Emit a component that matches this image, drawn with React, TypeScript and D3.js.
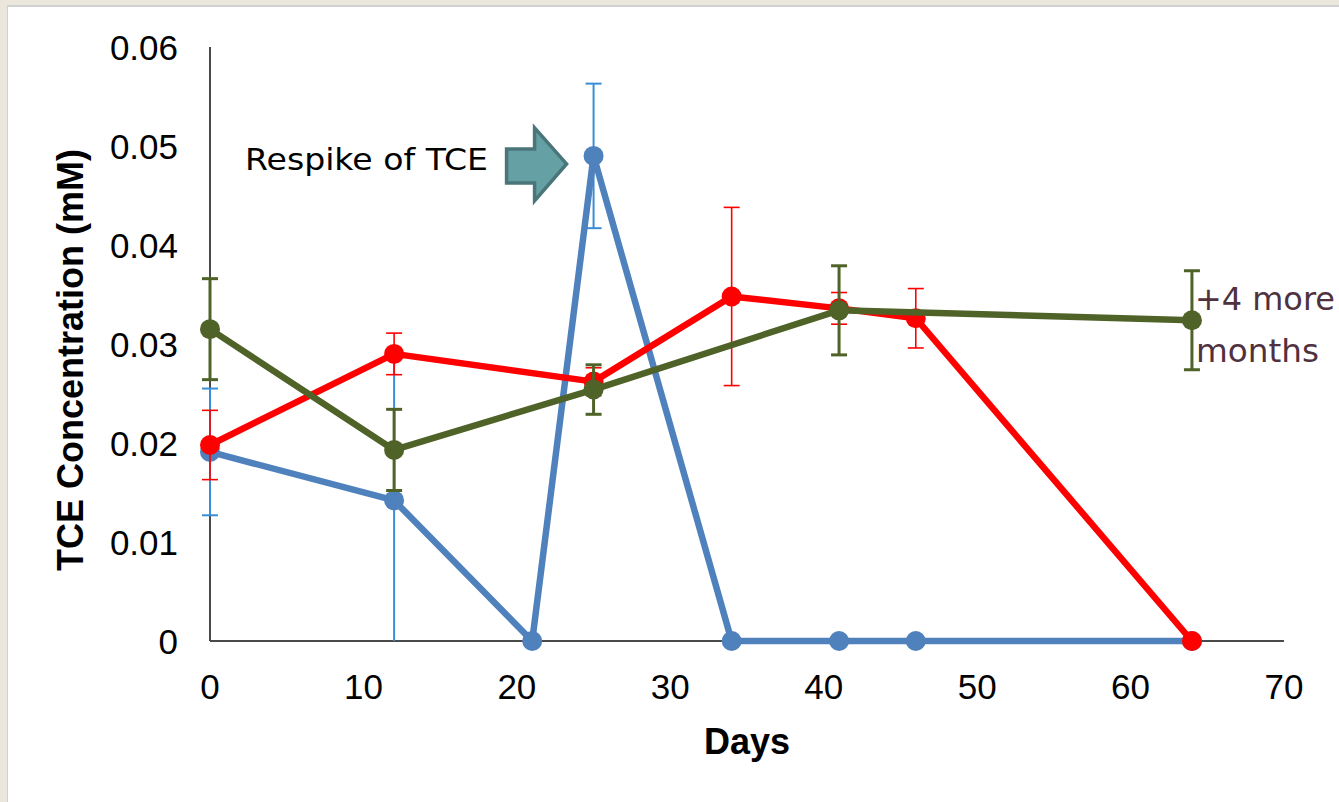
import React from "react";
import * as d3 from "d3";

const blueDays = [0, 12, 21, 25, 34, 41, 46, 64];
const blueVals = [0.0191, 0.0142, 0, 0.049, 0, 0, 0, 0];
const blueErr = [0.0064, 0.0145, 0, 0.0073, 0, 0, 0, 0];

const redDays = [0, 12, 25, 34, 41, 46, 64];
const redVals = [0.0198, 0.029, 0.0262, 0.0348, 0.0336, 0.0326, 0];
const redErr = [0.0035, 0.0021, 0.0014, 0.009, 0.0016, 0.003, 0];

const greenDays = [0, 12, 25, 41, 64];
const greenVals = [0.0315, 0.0193, 0.0254, 0.0334, 0.0324];
const greenErr = [0.0051, 0.0041, 0.0025, 0.0045, 0.005];

const xTicks = [0, 10, 20, 30, 40, 50, 60, 70];
const yTicks = [0, 0.01, 0.02, 0.03, 0.04, 0.05, 0.06];
const yTickLabels = ["0", "0.01", "0.02", "0.03", "0.04", "0.05", "0.06"];

const W = 1339;
const H = 802;

const x = d3.scaleLinear().domain([0, 70]).range([210, 1284]);
const y = d3.scaleLinear().domain([0, 0.06]).range([641, 47]);

type Series = {
  days: number[];
  vals: number[];
  err: number[];
  line: string;
  errColor: string;
  errWidth: number;
};

const series: Series[] = [
  { days: blueDays, vals: blueVals, err: blueErr, line: "#4f81bd", errColor: "#3a8ed8", errWidth: 2 },
  { days: redDays, vals: redVals, err: redErr, line: "#ff0000", errColor: "#ff0000", errWidth: 1.6 },
  { days: greenDays, vals: greenVals, err: greenErr, line: "#4f6228", errColor: "#4f6228", errWidth: 3 },
];

const FONT = "Liberation Sans, Arial, sans-serif";
const ANNOT = "'DejaVu Sans', 'Liberation Sans', sans-serif";

function SeriesG({ s }: { s: Series }) {
  const pts: [number, number][] = s.days.map((d, i) => [x(d), y(s.vals[i])]);
  const line = d3.line()(pts) || "";
  const capHalf = 8;
  return (
    <g>
      {s.days.map((d, i) => {
        const e = s.err[i];
        if (!e) return null;
        const hi = s.vals[i] + e;
        const loRaw = s.vals[i] - e;
        const lo = Math.max(0, loRaw);
        const cx = x(d);
        return (
          <g key={"e" + i} stroke={s.errColor} strokeWidth={s.errWidth}>
            <line x1={cx} x2={cx} y1={y(hi)} y2={y(lo)} />
            <line x1={cx - capHalf} x2={cx + capHalf} y1={y(hi)} y2={y(hi)} />
            {loRaw >= 0 && <line x1={cx - capHalf} x2={cx + capHalf} y1={y(lo)} y2={y(lo)} />}
          </g>
        );
      })}
      <path d={line} fill="none" stroke={s.line} strokeWidth={6.5} strokeLinejoin="round" />
      {pts.map((p, i) => (
        <circle key={"c" + i} cx={p[0]} cy={p[1]} r={10} fill={s.line} />
      ))}
    </g>
  );
}

export default function App() {
  // annotation arrow positioned relative to the respike point
  const tipX = x(25) - 27;
  const tipY = y(0.049) + 8;
  const arrow: [number, number][] = [
    [tipX - 60, tipY - 15],
    [tipX - 32, tipY - 15],
    [tipX - 32, tipY - 36],
    [tipX, tipY],
    [tipX - 32, tipY + 37],
    [tipX - 32, tipY + 19],
    [tipX - 60, tipY + 19],
  ];
  const arrowPath = "M" + arrow.map((p) => p.join(",")).join("L") + "Z";

  return (
    <div style={{ position: "absolute", left: 0, top: 0 }}>
      <svg width={W} height={H} style={{ display: "block" }}>
        <rect x={0} y={0} width={W} height={H} fill="#ebe7dc" />
        <rect x={7} y={5} width={W - 7} height={H - 5} fill="#d0d0d0" />
        <rect x={8} y={7} width={W - 8} height={H - 7} fill="#ffffff" />

        {/* axes */}
        <line x1={x(0)} x2={x(0)} y1={y(0.06)} y2={y(0)} stroke="#4a4a4a" strokeWidth={2} />
        <line x1={x(0)} x2={x(70)} y1={y(0)} y2={y(0)} stroke="#4a4a4a" strokeWidth={2} />

        {yTicks.map((t, i) => (
          <text
            key={"yt" + i}
            x={178}
            y={y(t)}
            dy="0.36em"
            textAnchor="end"
            fontFamily={FONT}
            fontSize={35}
            fill="#000"
          >
            {yTickLabels[i]}
          </text>
        ))}
        {xTicks.map((t, i) => (
          <text
            key={"xt" + i}
            x={x(t)}
            y={699}
            textAnchor="middle"
            fontFamily={FONT}
            fontSize={35}
            fill="#000"
          >
            {t}
          </text>
        ))}

        <text
          x={747}
          y={754}
          textAnchor="middle"
          fontFamily={FONT}
          fontWeight="bold"
          fontSize={36}
          fill="#000"
        >
          Days
        </text>
        <text
          transform={`translate(83,360) rotate(-90)`}
          textAnchor="middle"
          fontFamily={FONT}
          fontWeight="bold"
          fontSize={36}
          fill="#000"
        >
          TCE Concentration (mM)
        </text>

        {series.map((s, i) => (
          <SeriesG key={i} s={s} />
        ))}

        {/* annotation */}
        <path d={arrowPath} fill="#65a0a5" stroke="#4b7679" strokeWidth={3.5} strokeLinejoin="miter" />
        <text x={245} y={170} fontFamily={ANNOT} fontSize={31} fill="#000" textLength={243} lengthAdjust="spacingAndGlyphs">
          Respike of TCE
        </text>
        <text x={1195} y={310} fontFamily={ANNOT} fontSize={32} fill="#4f3140" textLength={140} lengthAdjust="spacingAndGlyphs">
          +4 more
        </text>
        <text x={1196} y={362} fontFamily={ANNOT} fontSize={32} fill="#4f3140" textLength={123} lengthAdjust="spacingAndGlyphs">
          months
        </text>
      </svg>
    </div>
  );
}
